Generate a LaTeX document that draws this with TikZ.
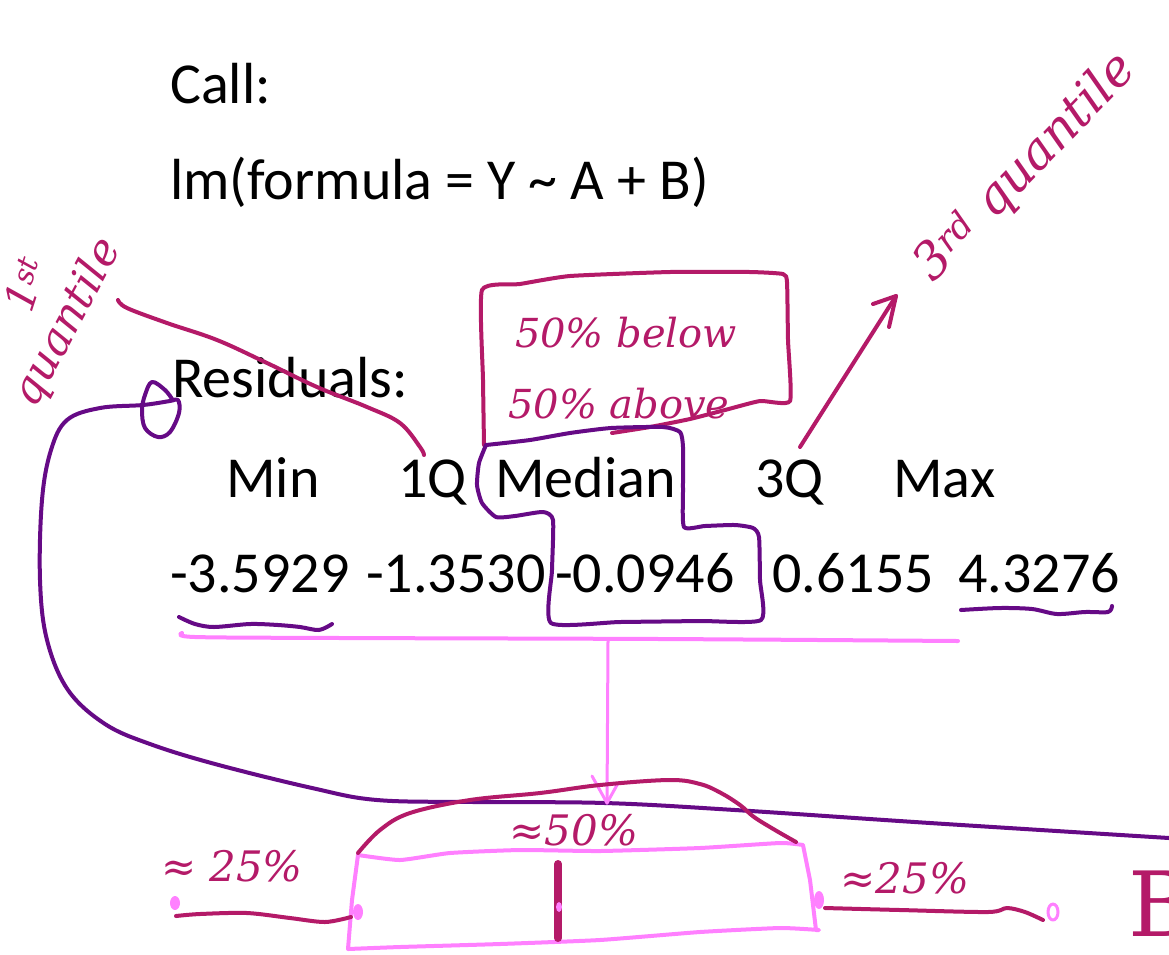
\documentclass[tikz,border=0pt]{standalone}
\usepackage{fontspec}
\setmainfont{Carlito}
\newfontfamily\hand{DejaVu Serif}
\definecolor{pen}{RGB}{180,26,104}
\definecolor{ink}{RGB}{102,10,134}
\definecolor{hilite}{RGB}{255,128,255}
\tikzset{
  txt/.style={anchor=base west, inner sep=0pt, font=\fontsize{58}{70}\selectfont},
  note/.style={text=pen, inner sep=0pt, font=\hand\itshape\fontsize{#1}{#1}\selectfont},
  note/.default=40,
  penline/.style={draw=pen, line width=4pt, line cap=round, line join=round},
  inkline/.style={draw=ink, line width=4pt, line cap=round, line join=round},
  hiline/.style={draw=hilite, line width=4pt, line cap=round, line join=round},
  dot/.style={fill=hilite, draw=none}
}
\begin{document}
\begin{tikzpicture}[x=1pt,y=-1pt]
\fill[white] (0,0) rectangle (1169,954);
\useasboundingbox (0,0) rectangle (1169,954);

% ---- printed R output ----
\node[txt] (call) at (170,103) {Call:};
\node[txt] (lm) at (170,199) {lm(formula = Y \textasciitilde{} A + B)};
\node[txt] (res) at (172,397) {Residuals:};
\node[txt] (hmin) at (226,497) {Min};
\node[txt] (hq1) at (398,497) {1Q};
\node[txt] (hmed) at (495,497) {Median};
\node[txt] (hq3) at (755,497) {3Q};
\node[txt] (hmax) at (893,497) {Max};
\node[txt] (vmin) at (170,592) {-3.5929};
\node[txt] (vq1) at (366,592) {-1.3530};
\node[txt] (vmed) at (555,592) {-0.0946};
\node[txt] (vq3) at (772,592) {0.6155};
\node[txt] (vmax) at (958,592) {4.3276};

% ---- handwritten notes ----
\node[note=42, rotate=72] (first) at (25,284) {1\textsuperscript{st}};
\node[note=44, rotate=62] (quant1) at (68,323) {quantile};
\node[note=50, rotate=46] (third) at (1026,168) {3\textsuperscript{rd} quantile};
\node[note] (below) at (626,333) {50\% below};
\node[note] (above) at (619,404) {50\% above};
\node[note=42] (lo) at (232,866) {≈ 25\%};
\node[note=42] (mid) at (574,830) {≈50\%};
\node[note=42] (hi) at (905,878) {≈25\%};
\node[text=pen, inner sep=0pt, anchor=west, font=\hand\fontsize{90}{90}\selectfont] (bee) at (1128,904) {B};

% 1st quartile pointer to 1Q
\draw[penline] plot[smooth, tension=0.6] coordinates {(118,300) (127,308) (167,323) (217,340) (267,363) (317,387) (367,407) (400,423) (420,447) (424,455)};

% box round the median remark
\draw[penline] plot[smooth, tension=0.3] coordinates {(484,445) (483,380) (482,290) (520,284) (570,276) (670,272) (750,272) (783,274) (787,282) (788,340) (790,401) (760,401) (725,410) (690,419) (650,427) (612,433)};

% arrow from 3Q to the third quartile note
\coordinate (a3) at (800,447);
\coordinate (t3) at (896,296);
\draw[penline] (a3) -- (t3);
\draw[penline] (873,304) -- (t3) -- (889,327);

% purple marks: median outline, min/max underlines, loop and long curve
\draw[inkline] plot[smooth, tension=0.35] coordinates {(486,445) (530,440) (570,433) (611,428) (663,427) (680,432) (683,447) (683,490) (684,527) (705,526) (735,525) (753,528) (759,537) (760,580) (761,620) (700,621) (620,622) (551,623) (552,570) (553,520) (543,512) (515,516) (496,517) (482,503) (477,485) (479,463) (486,445)};
\draw[inkline] plot[smooth, tension=0.5] coordinates {(179,617) (195,624) (214,627) (250,624) (278,625) (300,627) (319,630) (332,624)};
\draw[inkline] plot[smooth, tension=0.5] coordinates {(961,610) (1000,608) (1032,609) (1057,614) (1085,612) (1108,612) (1112,606)};
\draw[inkline] plot[smooth, tension=0.6] coordinates {(172,399) (165,390) (152,382) (145,395) (142,410) (145,428) (158,437) (170,432) (179,413) (178,400) (170,401) (143,405) (100,408) (67,420) (51,450) (42,500) (40,580) (47,640) (68,690) (105,724) (150,744) (215,764) (312,788) (377,800) (474,802) (605,803) (735,810) (930,823) (1169,838)};

% pink summary underline and arrow down to the box plot
\draw[hiline] plot[smooth, tension=0.5] coordinates {(182,633) (195,637) (342,638) (661,639) (958,641)};
\coordinate (u) at (608,641);
\coordinate (tip) at (607,803);
\draw[hiline, line width=3pt] (u) -- (tip);
\draw[hiline, line width=3pt] (592,776) -- (tip) -- (617,785);

% box plot
\draw[hiline] plot[smooth, tension=0.3] coordinates {(358,855) (400,860) (450,853) (520,850) (600,851) (700,848) (780,843) (803,845)} -- (810,880) -- (816,930) -- plot[smooth, tension=0.3] coordinates {(819,930) (780,928) (700,932) (600,940) (500,944) (400,947) (348,949)} -- (352,900) -- cycle;
\draw[penline] plot[smooth, tension=0.6] coordinates {(358,853) (380,830) (410,813) (470,800) (540,793) (600,785) (669,780) (700,784) (721,793) (740,805) (754,817) (775,830) (796,842)};
\draw[draw=pen, line width=8pt, line cap=round] (558,864) -- (558,938);
\draw[penline] plot[smooth, tension=0.5] coordinates {(176,916) (200,914) (247,913) (290,918) (325,922) (351,917)};
\draw[penline] plot[smooth, tension=0.5] coordinates {(825,908) (900,910) (988,912) (1007,908) (1025,912) (1043,920)};
\fill[dot] (175,903) ellipse (5 and 7);
\fill[dot] (358,912) ellipse (5 and 8);
\fill[dot] (819,900) ellipse (5 and 9);
\fill[dot] (559,907) ellipse (3 and 5);
\draw[hiline, line width=3pt] (1053,912) ellipse (5 and 8);
\end{tikzpicture}
\end{document}
